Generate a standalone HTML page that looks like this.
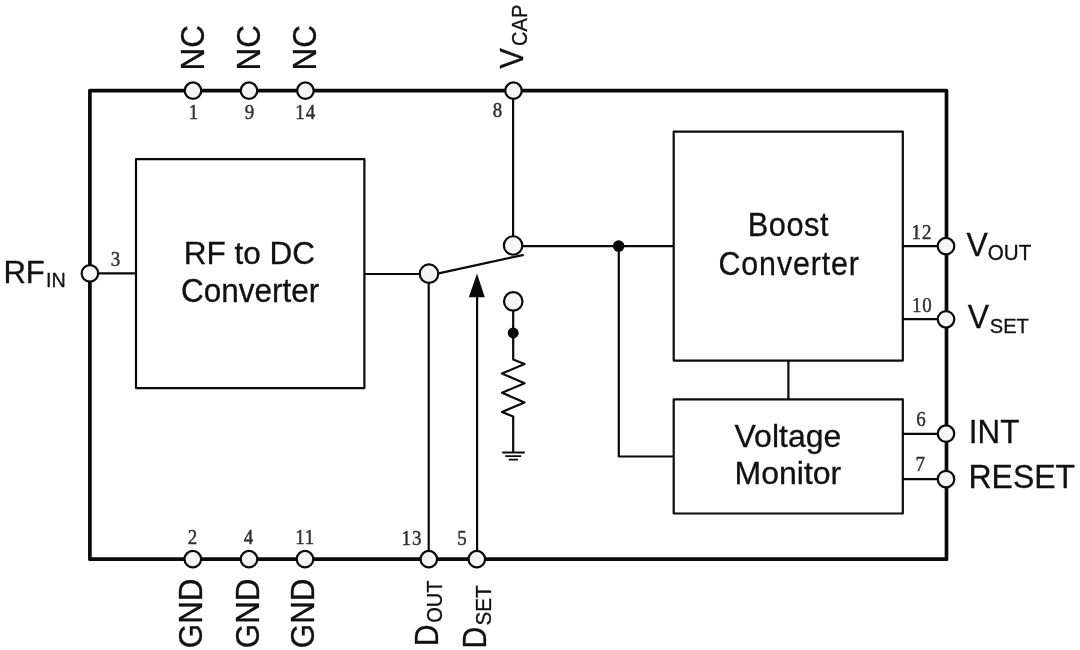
<!DOCTYPE html>
<html lang="en">
<head>
<meta charset="utf-8">
<title>Block Diagram</title>
<style>
  html, body { margin: 0; padding: 0; background: #ffffff; }
  body { width: 1080px; height: 650px; overflow: hidden; }
  svg { display: block; filter: blur(0.45px); }
  .sans { font-family: "Liberation Sans", sans-serif; fill: #111; stroke: #111; stroke-width: 0.3; }
  .pin { font-family: "Liberation Serif", serif; font-size: 21.5px; fill: #303030; stroke: #303030; stroke-width: 0.5; stroke-linejoin: round; text-anchor: middle; }
  .w { stroke: #0a0a0a; stroke-width: 2.2; fill: none; stroke-linejoin: round; }
  .g { stroke: #0a0a0a; stroke-width: 1.8; fill: none; }
  .o { stroke: #0a0a0a; stroke-width: 3.7; fill: none; stroke-linejoin: round; }
  .c { stroke: #0a0a0a; stroke-width: 2.2; fill: #f5f5f5; }
  .d { fill: #0a0a0a; }
</style>
</head>
<body>
<svg width="1080" height="650" viewBox="0 0 1080 650">
  <rect x="0" y="0" width="1080" height="650" fill="#ffffff"/>
  <!-- outer package outline -->
  <rect class="o" x="89.9" y="90.7" width="856.6" height="468.5"/>
  <!-- blocks -->
  <rect class="w" x="136.0" y="159.1" width="228.4" height="229.0"/>
  <rect class="w" x="673.7" y="131.6" width="229.1" height="229.0"/>
  <rect class="w" x="673.7" y="399.4" width="229.1" height="114.1"/>
  <!-- wires -->
  <path class="w" d="M97.9 273.4H136.0"/>
  <path class="w" d="M364.4 274.0H421.0"/>
  <path class="w" d="M428.7 281.7V552.2"/>
  <path class="w" d="M477.1 296V552.2"/>
  <path class="w" d="M513.1 97.7V237.5"/>
  <path class="w" d="M521.1 246.1H673.7"/>
  <path class="w" d="M618.8 246.1V456.5H673.7"/>
  <path class="w" d="M788.4 360.6V399.4"/>
  <path class="w" d="M902.8 246.1H939.5"/>
  <path class="w" d="M902.8 319.2H939.5"/>
  <path class="w" d="M902.8 433.8H939.5"/>
  <path class="w" d="M902.8 479.15H939.5"/>
  <!-- switch arm and control arrow -->
  <path class="w" d="M438.6 273.4L523.7 254.9"/>
  <path class="d" d="M477 273.5L484.8 297.2H468.8Z"/>
  <!-- pull-down resistor to ground -->
  <path class="w" d="M513.2 309.4V359.4L524.5 364.1L502.0 373.6L524.5 383.2L502.0 392.8L524.5 402.4L502.0 412L513.2 416.5V452.3" stroke-linejoin="round"/>
  <path class="g" d="M502.2 452.5H524.8M505.3 456.1H521.2M508.8 459.6H518.1"/>
  <circle class="d" cx="513.2" cy="332.9" r="5.5"/>
  <circle class="d" cx="618.65" cy="246.1" r="5.75"/>
  <!-- switch terminals -->
  <circle class="c" cx="429.0" cy="273.7" r="9.25"/>
  <circle class="c" cx="513.1" cy="245.5" r="9.25"/>
  <circle class="c" cx="513.25" cy="301.4" r="9.25"/>
  <!-- package pins -->
  <circle class="c" cx="193.0" cy="90.7" r="8.25"/>
  <circle class="c" cx="249.0" cy="90.7" r="8.25"/>
  <circle class="c" cx="305.4" cy="90.7" r="8.25"/>
  <circle class="c" cx="513.5" cy="90.7" r="8.25"/>
  <circle class="c" cx="89.9" cy="273.4" r="8.25"/>
  <circle class="c" cx="192.8" cy="559.2" r="8.25"/>
  <circle class="c" cx="249.0" cy="559.2" r="8.25"/>
  <circle class="c" cx="305.0" cy="559.2" r="8.25"/>
  <circle class="c" cx="428.8" cy="559.2" r="8.25"/>
  <circle class="c" cx="476.8" cy="559.2" r="8.25"/>
  <circle class="c" cx="946.0" cy="246.2" r="8.25"/>
  <circle class="c" cx="946.0" cy="319.3" r="8.25"/>
  <circle class="c" cx="946.0" cy="433.7" r="8.25"/>
  <circle class="c" cx="946.0" cy="479.15" r="8.25"/>
  <!-- block labels -->
  <text class="sans" font-size="32" text-anchor="middle" transform="translate(249.4 264) scale(0.985 1.005)">RF to DC</text>
  <text class="sans" font-size="32" text-anchor="middle" transform="translate(250.2 302.3) scale(0.985 1.03)">Converter</text>
  <text class="sans" font-size="32" text-anchor="middle" letter-spacing="0.6" transform="translate(788.39 236.2) scale(0.96 1.01)">Boost</text>
  <text class="sans" font-size="32" text-anchor="middle" letter-spacing="0.9" transform="translate(789.13 274.9) scale(0.95 1.055)">Converter</text>
  <text class="sans" font-size="32" text-anchor="middle" transform="translate(787.9 446.9) scale(1.0 1.0)">Voltage</text>
  <text class="sans" font-size="32" text-anchor="middle" transform="translate(787.9 484.2) scale(1.0 1.0)">Monitor</text>
  <!-- pin numbers -->
  <text class="pin" transform="translate(193.5 119.1) scale(0.88 1)">1</text>
  <text class="pin" transform="translate(249.4 119.1) scale(0.88 1)">9</text>
  <text class="pin" letter-spacing="1.1" transform="translate(305.7 119.1) scale(0.88 1)">14</text>
  <text class="pin" transform="translate(497.4 117.3) scale(0.88 1)">8</text>
  <text class="pin" transform="translate(115.4 265.5) scale(0.88 1)">3</text>
  <text class="pin" letter-spacing="1.1" transform="translate(922.0 238.6) scale(0.88 1)">12</text>
  <text class="pin" letter-spacing="1.1" transform="translate(922.3 311.5) scale(0.88 1)">10</text>
  <text class="pin" transform="translate(921 425.5) scale(0.88 1)">6</text>
  <text class="pin" transform="translate(920.3 471.4) scale(0.88 1)">7</text>
  <text class="pin" transform="translate(192.5 544.4) scale(0.88 1)">2</text>
  <text class="pin" transform="translate(248.4 544.4) scale(0.88 1)">4</text>
  <text class="pin" letter-spacing="1.1" transform="translate(305.2 544.4) scale(0.88 1)">11</text>
  <text class="pin" letter-spacing="1.1" transform="translate(411.9 544.6) scale(0.88 1)">13</text>
  <text class="pin" transform="translate(462 544.6) scale(0.88 1)">5</text>
  <!-- horizontal pin names -->
  <text class="sans" font-size="32" transform="translate(3.4 282.6) scale(0.97 1.0)">RF<tspan font-size="20.4" dx="1.4" dy="4.30">IN</tspan></text>
  <text class="sans" font-size="32" transform="translate(966.5 255.5) scale(1.0 1.03)">V<tspan font-size="20.6" dx="0.0" dy="4.22">OUT</tspan></text>
  <text class="sans" font-size="32" transform="translate(967.8 328.1) scale(1.0 1.03)">V<tspan font-size="20.1" dx="0.6" dy="4.76">SET</tspan></text>
  <text class="sans" font-size="32" transform="translate(968.8 442.5) scale(0.98 1.03)">INT</text>
  <text class="sans" font-size="32" transform="translate(968.5 488.3) scale(1.0 1.03)">RESET</text>
  <!-- rotated pin names -->
  <text class="sans" font-size="32" transform="translate(203.9 70.5) rotate(-90) scale(0.982 1.035)">NC</text>
  <text class="sans" font-size="32" transform="translate(260.2 70.5) rotate(-90) scale(0.982 1.035)">NC</text>
  <text class="sans" font-size="32" transform="translate(316.4 70.5) rotate(-90) scale(0.982 1.035)">NC</text>
  <text class="sans" font-size="32" transform="translate(523 68.8) rotate(-90) scale(0.97 1.035)">V<tspan font-size="20.7" dx="2.2" dy="3.86">CAP</tspan></text>
  <text class="sans" font-size="32" transform="translate(202.1 648.3) rotate(-90) scale(0.983 1.035)">GND</text>
  <text class="sans" font-size="32" transform="translate(259.3 648.3) rotate(-90) scale(0.983 1.035)">GND</text>
  <text class="sans" font-size="32" transform="translate(313.6 648.3) rotate(-90) scale(0.983 1.035)">GND</text>
  <text class="sans" font-size="32" transform="translate(437.8 646.3) rotate(-90) scale(0.945 1.035)">D<tspan font-size="21.3" dx="1.7" dy="4.06">OUT</tspan></text>
  <text class="sans" font-size="32" transform="translate(486.0 648.4) rotate(-90) scale(0.945 1.035)">D<tspan font-size="21.9" dx="1.1" dy="4.44">SET</tspan></text>
</svg>
</body>
</html>
